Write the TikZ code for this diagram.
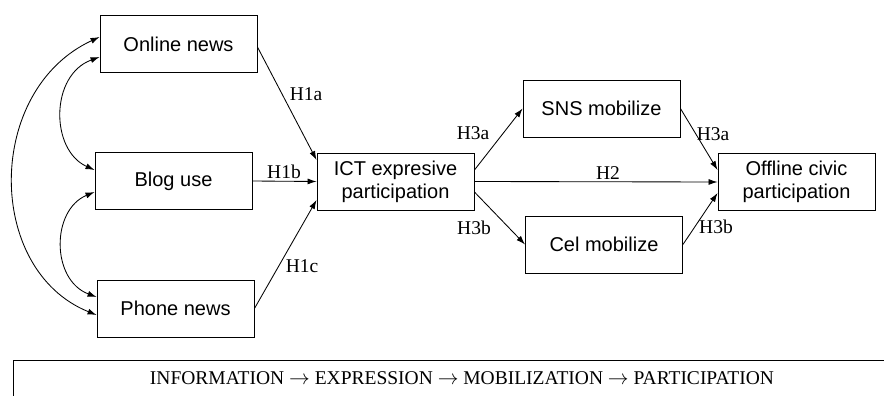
\documentclass[tikz,border=0pt]{standalone}
\usepackage{fontspec}
\setmainfont{Liberation Serif}
\setsansfont{Liberation Sans}
\usetikzlibrary{arrows.meta}

\begin{document}
\begin{tikzpicture}[
  x=1pt, y=-1pt,
  box/.style={draw, line width=0.9pt, minimum width=157pt, minimum height=57pt,
    inner sep=0pt, font=\sffamily\fontsize{20}{23}\selectfont, align=center},
  hyp/.style={font=\fontsize{19.5}{19.5}\selectfont, inner sep=0pt},
  arr/.style={-{Latex[length=9pt, width=6pt]}, line width=0.85pt},
  biarr/.style={{Latex[length=9pt, width=6pt]}-{Latex[length=9pt, width=6pt]}, line width=0.85pt}
]
  \useasboundingbox (0,0) rectangle (884,396);

  % Media use
  \node[box] (online) at (178.5,44) {Online news};
  \node[box] (blog) at (173.5,181) {Blog use};
  \node[box] (phone) at (175.5,308.5) {Phone news};

  % Expression
  \node[box] (ict) at (395.5,181.5) {ICT expresive\\participation};

  % Mobilization
  \node[box] (sns) at (601.5,108.5) {SNS mobilize};
  \node[box] (cel) at (604,244.5) {Cel mobilize};

  % Participation
  \node[box] (offline) at (796.5,182) {Offline civic\\participation};

  % Correlations among media use
  \draw[biarr] ([yshift=7pt]online.west) .. controls (-15,90) and (-15,270) .. ([yshift=-6.5pt]phone.west);
  \draw[biarr] ([yshift=-13pt]online.west) .. controls (50,75) and (50,150) .. ([yshift=11pt]blog.west);
  \draw[biarr] ([yshift=-11pt]blog.west) .. controls (51,210) and (51,280) .. ([yshift=11.5pt]phone.west);

  % Paths
  \draw[arr] ([yshift=-3pt]online.east) -- ([yshift=21.5pt]ict.west);
  \draw[arr] (blog.east) -- (ict.west);
  \draw[arr] (phone.east) -- ([yshift=-18.5pt]ict.west);
  \draw[arr] ([yshift=11.5pt]ict.east) -- (sns.west);
  \draw[arr] ([yshift=-10.5pt]ict.east) -- (cel.west);
  \draw[arr] (ict.east) -- (offline.west);
  \draw[arr] (sns.east) -- ([yshift=12pt]offline.west);
  \draw[arr] (cel.east) -- ([yshift=-11pt]offline.west);

  % Hypothesis labels
  \node[hyp] (h1a) at (306,94) {H1a};
  \node[hyp] (h1b) at (284,172) {H1b};
  \node[hyp] (h1c) at (302,266) {H1c};
  \node[hyp] (h3a) at (473,133) {H3a};
  \node[hyp] (h3b) at (474,228) {H3b};
  \node[hyp] (h2) at (608,173) {H2};
  \node[hyp] (h3ar) at (713,134) {H3a};
  \node[hyp] (h3br) at (716,227) {H3b};

  % Sequence bar
  \coordinate (barl) at (13,396);
  \coordinate (barr) at (884,360);
  \draw[line width=0.9pt] (barl) |- (barr);
  \node[font=\fontsize{19.5}{19.5}\selectfont] (seq) at (462,378)
    {INFORMATION $\rightarrow$ EXPRESSION $\rightarrow$ MOBILIZATION $\rightarrow$ PARTICIPATION};
\end{tikzpicture}
\end{document}
